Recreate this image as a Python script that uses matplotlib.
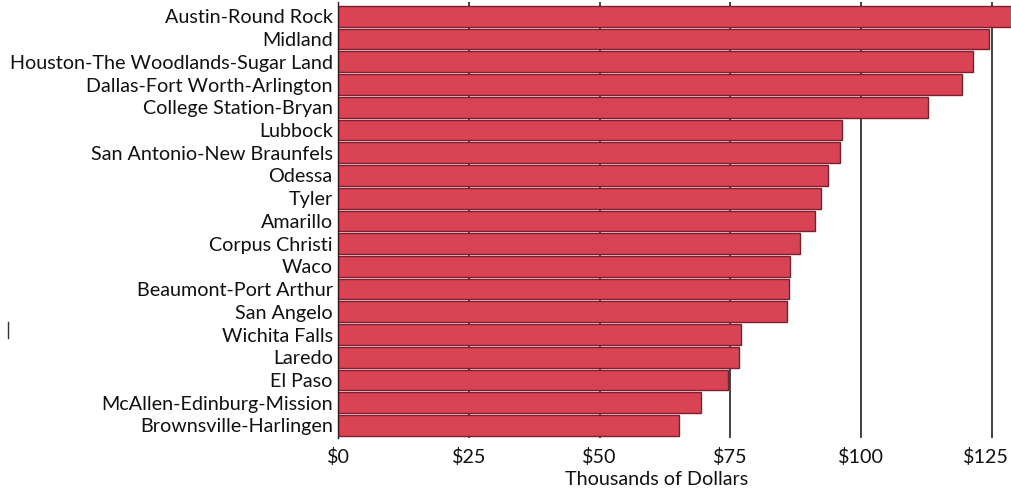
import matplotlib
matplotlib.use("Agg")
import matplotlib.pyplot as plt
from matplotlib.lines import Line2D
from matplotlib.transforms import ScaledTranslation

areas = ["Austin-Round Rock", "Midland", "Houston-The Woodlands-Sugar Land",
         "Dallas-Fort Worth-Arlington", "College Station-Bryan", "Lubbock",
         "San Antonio-New Braunfels", "Odessa", "Tyler", "Amarillo",
         "Corpus Christi", "Waco", "Beaumont-Port Arthur", "San Angelo",
         "Wichita Falls", "Laredo", "El Paso", "McAllen-Edinburg-Mission",
         "Brownsville-Harlingen"]
values = [130.0, 124.5, 121.5, 119.3, 112.8, 96.4, 95.9, 93.7, 92.3, 91.3,
          88.3, 86.4, 86.2, 85.8, 77.0, 76.6, 74.6, 69.4, 65.2]
xticks = [0, 25, 50, 75, 100, 125]
xticklabels = ["$0", "$25", "$50", "$75", "$100", "$125"]

plt.rcParams['font.family'] = ['Lato', 'DejaVu Sans']

fig = plt.figure(figsize=(10.11, 4.91), dpi=100)
ax = fig.add_axes([338.2 / 1011, 1 - 438 / 491, (1011 - 338.2) / 1011, 436 / 491])

ypos = list(range(len(areas)))
ax.barh(ypos, values, height=0.91, color='#DA4354', edgecolor='#7d1e2c',
        linewidth=1.0, zorder=2)
ax.set_xlim(0, 128.7)
ax.set_ylim(18.55, -0.63)
ax.set_yticks(ypos)
ax.set_yticklabels(areas, fontsize=14.2, color='#111111')
ax.set_xticks(xticks)
ax.set_xticklabels(xticklabels, fontsize=14.2, color='#111111')
ax.tick_params(axis='both', length=0, pad=4)
ax.tick_params(axis='x', pad=7)
ax.xaxis.grid(True, color='#222222', linewidth=1.2, zorder=0)
ax.set_axisbelow(True)
ax.set_xlabel("Thousands of Dollars", fontsize=14.2, color='#111111', labelpad=4)
ax.xaxis.set_label_coords(0.473, -0.075)
for s in ['top', 'right', 'bottom']:
    ax.spines[s].set_visible(False)
ax.spines['left'].set_color('#222222')
ax.spines['left'].set_linewidth(1.0)

# keep the last tick label inside the canvas, as in the reference
last = ax.get_xticklabels()[-1]
last.set_transform(last.get_transform() + ScaledTranslation(-6 / 100, 0, fig.dpi_scale_trans))

fig.add_artist(Line2D([7.5 / 1011, 7.5 / 1011], [1 - 322 / 491, 1 - 338 / 491],
                      color='#333333', linewidth=1.0, transform=fig.transFigure))

fig.savefig("out.png", dpi=100)
